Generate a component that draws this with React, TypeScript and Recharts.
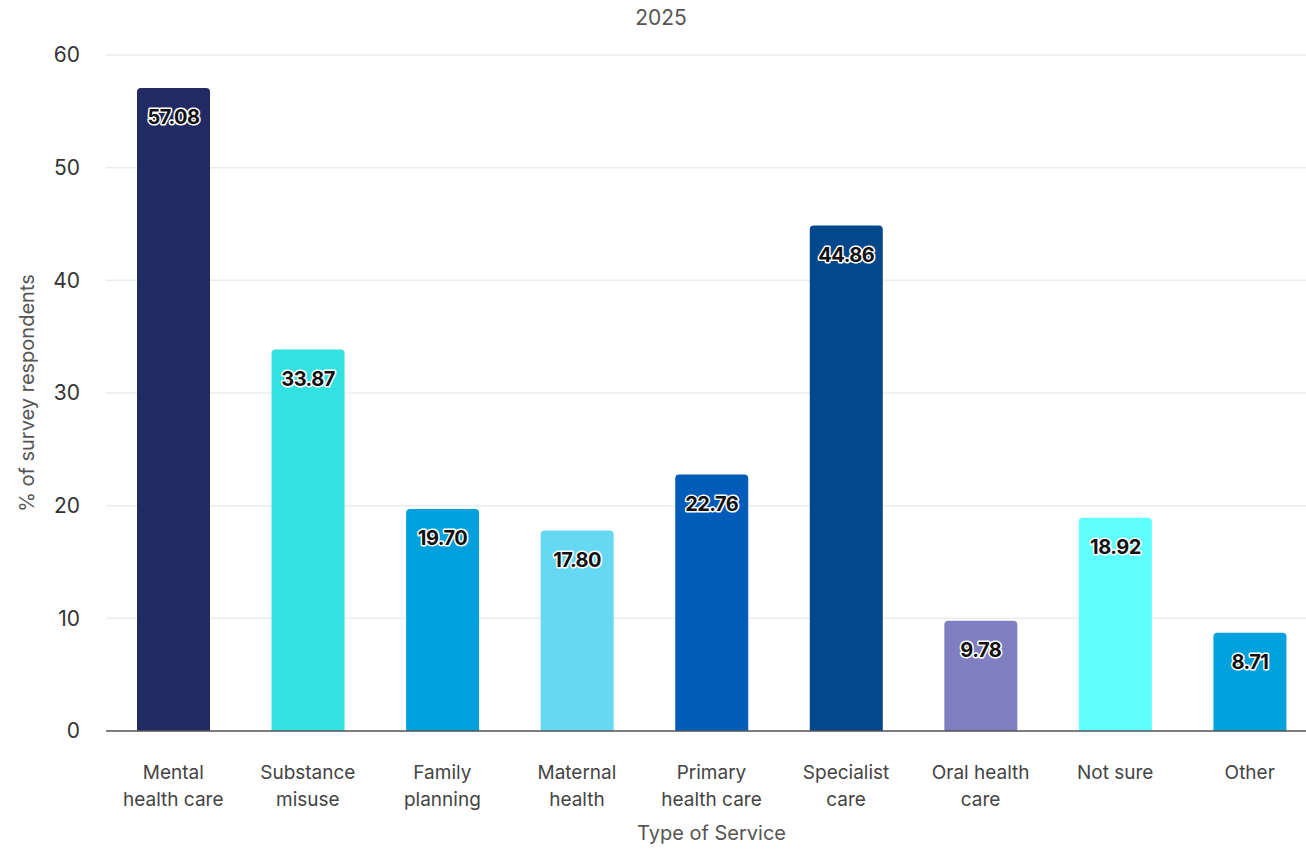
import React from 'react';
import { BarChart, Bar, XAxis, YAxis, CartesianGrid, Cell, LabelList, Label } from 'recharts';

const categories = [
  'Mental\nhealth care',
  'Substance\nmisuse',
  'Family\nplanning',
  'Maternal\nhealth',
  'Primary\nhealth care',
  'Specialist\ncare',
  'Oral health\ncare',
  'Not sure',
  'Other',
];

const values = [57.08, 33.87, 19.7, 17.8, 22.76, 44.86, 9.78, 18.92, 8.71];

const yTicks = [0, 10, 20, 30, 40, 50, 60];

const COLORS = [
  '#212a62', // mental
  '#31e2e0', // substance
  '#00a1dc', // family
  '#67d8f2', // maternal
  '#005cb9', // primary
  '#03488a', // specialist
  '#7f7fc2', // oral
  '#60ffff', // not sure
  '#00a1dc', // other
];

const FONT = 'Inter, "Noto Sans", sans-serif';

const data = categories.map((name, i) => ({ name, value: values[i] }));

const CategoryTick = (props: any) => {
  const { x, y, payload } = props;
  const lines = String(payload.value).split('\n');
  return (
    <text x={x} y={y} textAnchor="middle" fill="#444" fontSize={19} fontFamily={FONT}>
      {lines.map((line, i) => (
        <tspan key={i} x={x} y={y + 40 + i * 27}>
          {line}
        </tspan>
      ))}
    </text>
  );
};

const ValueLabel = (props: any) => {
  const { x, y, width, value } = props;
  return (
    <text
      x={x + width / 2}
      y={y + 31}
      textAnchor="middle"
      dominantBaseline="middle"
      fontSize={20}
      fontWeight={700}
      fontFamily={FONT}
      fill="#111"
      stroke="#fff"
      strokeWidth={3}
      strokeLinejoin="round"
      paintOrder="stroke"
      letterSpacing={-0.5}
    >
      {Number(value).toFixed(2)}
    </text>
  );
};

export default function App() {
  return (
    <div style={{ position: 'absolute', left: 0, top: 0, width: 1306, height: 850, overflow: 'hidden', background: '#fff' }}>
      <div
        style={{
          position: 'absolute',
          top: 5,
          left: 0,
          width: 1322,
          textAlign: 'center',
          fontFamily: FONT,
          fontSize: 21,
          color: '#555',
        }}
      >
        2025
      </div>
      <BarChart
        width={1317}
        height={850}
        data={data}
        margin={{ top: 55, right: 0, bottom: 10, left: 0 }}
      >
        <CartesianGrid vertical={false} stroke="#ececec" strokeWidth={1.5} />
        <XAxis
          dataKey="name"
          interval={0}
          height={109}
          tickLine={false}
          axisLine={{ stroke: '#555', strokeWidth: 1.5 }}
          tick={<CategoryTick />}
        >
          <Label
            value="Type of Service"
            position="insideBottom"
            offset={0}
            fill="#555"
            fontSize={20}
            fontFamily={FONT}
          />
        </XAxis>
        <YAxis
          width={106}
          domain={[0, 60]}
          ticks={yTicks}
          tickLine={false}
          axisLine={false}
          tickSize={0}
          tickMargin={26}
          tick={{ fill: '#333', fontSize: 21, fontFamily: FONT }}
        >
          <Label
            value="% of survey respondents"
            angle={-90}
            position="center"
            dx={-26}
            fill="#555"
            fontSize={20}
            fontFamily={FONT}
          />
        </YAxis>
        <Bar dataKey="value" barSize={73} radius={[4, 4, 0, 0]} isAnimationActive={false}>
          {data.map((entry, index) => (
            <Cell key={`cell-${index}`} fill={COLORS[index]} />
          ))}
          <LabelList dataKey="value" content={<ValueLabel />} />
        </Bar>
      </BarChart>
    </div>
  );
}
